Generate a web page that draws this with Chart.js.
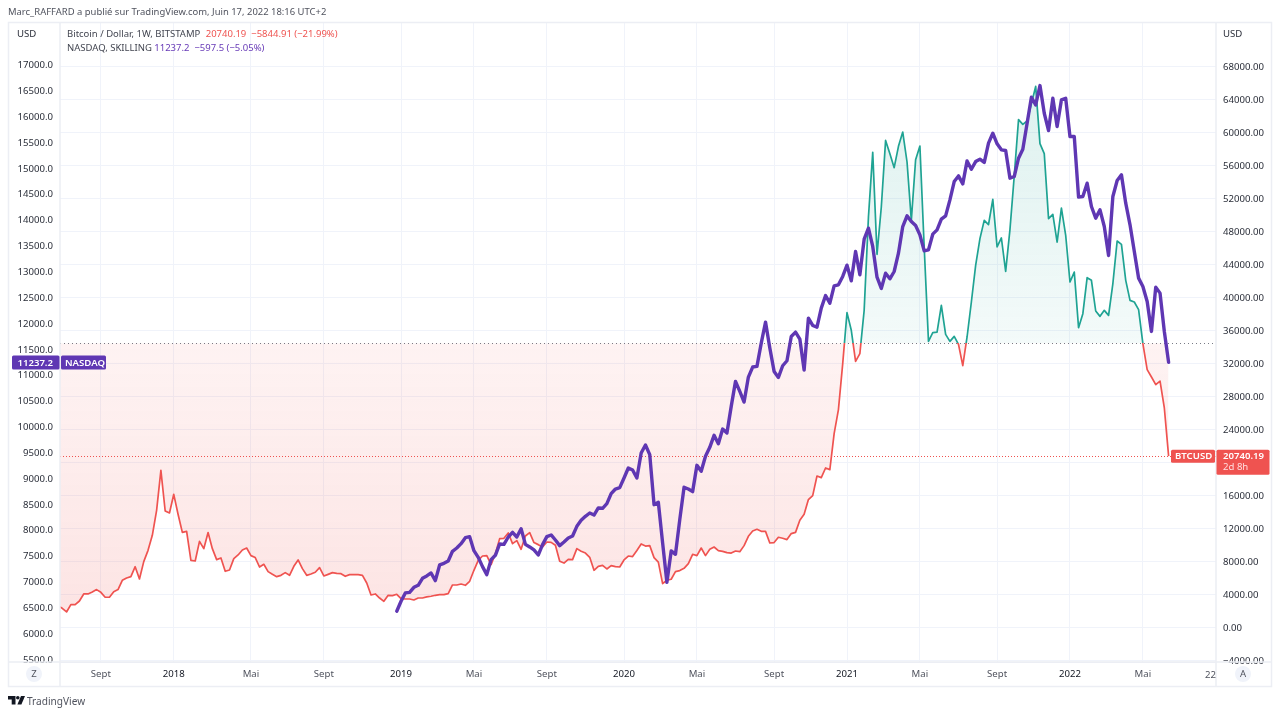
<!DOCTYPE html>
<html lang="fr"><head><meta charset="utf-8"><title>Bitcoin / NASDAQ</title>
<script src="https://cdn.jsdelivr.net/npm/chart.js@4/dist/chart.umd.min.js"></script>
<style>
html,body{margin:0;padding:0;background:#fff;width:1280px;height:715px;overflow:hidden}
body{font-family:"Noto Sans",sans-serif;position:relative;color:#434651}
canvas{position:absolute;left:0;top:0}
.t{position:absolute;white-space:pre;font-size:9.5px;line-height:12px}
.logo{position:absolute;left:8px;top:696px}
</style></head><body>
<canvas id="c" width="1280" height="715"></canvas>
<div class="t" style="left:8px;top:6px;font-size:9.45px;color:#50535e">Marc_RAFFARD a publié sur TradingView.com, Juin 17, 2022 18:16 UTC+2</div>
<div class="t" style="left:67px;top:28px">Bitcoin / Dollar, 1W, BITSTAMP <span style="color:#ef5350;margin-left:3px">20740.19  −5844.91 (−21.99%)</span></div>
<div class="t" style="left:67px;top:42px">NASDAQ, SKILLING <span style="color:#673ab7">11237.2  −597.5 (−5.05%)</span></div>
<svg class="logo" width="17" height="9" viewBox="0 0 17 9"><path fill="#131722" d="M0 0h7.5v8.5H3.7V3.6H0z"/><circle fill="#131722" cx="9.8" cy="1.8" r="1.8"/><path fill="#131722" d="M13 0h4l-3.6 8.5H9.4z"/></svg>
<div class="t" style="left:27px;top:694px;font-size:10.1px;line-height:14px;color:#50535e">TradingView</div>
<script>
const btcWeekly = [
2600,2300,1860,2750,2750,3190,4040,4040,4280,4570,
4240,3640,3640,4320,4570,5700,5980,6140,7350,5860,
7960,9330,11150,14180,19030,14100,13860,16120,13700,11510,
11630,8120,8040,10420,9530,11480,9530,8200,8400,6790,
6950,8320,8770,9370,9610,8690,8450,7310,7640,6750,
6420,6140,6300,6630,6300,7390,8160,7110,6300,6460,
6670,7230,6220,6420,6630,6540,6500,6180,6380,6380,
6380,6300,5370,3920,4040,3550,3150,3880,3840,4000,
3480,3430,3430,3310,3550,3550,3680,3760,3880,3960,
3960,4080,5130,5130,5250,5090,5580,6910,8120,8640,
8690,7600,8930,10750,10790,11430,10140,10510,9450,11070,
11480,10270,10020,9730,10340,10300,9940,8000,7790,8240,
8200,9540,9210,9000,8480,6910,7390,7510,7070,7480,
7350,7310,8160,8640,8570,9300,10100,9850,9900,8450,
7910,5300,5700,5820,6750,6870,7150,7720,8850,8690,
9610,8690,9450,9730,9300,9210,9050,9000,9250,9170,
9900,11030,11670,11880,11630,11630,10220,10270,10910,10790,
10630,11360,11510,12970,13700,15480,15960,18340,18140,19310,
19110,23470,26390,31960,38140,36000,32240,33170,38420,49730,
57570,45210,50950,59020,57410,55710,58300,60030,56400,49330,
56680,58340,46090,34660,35720,35790,39030,35510,34660,35270,
34300,31720,35190,39430,43870,47110,49330,48810,51870,46100,
47190,43150,48200,54700,61530,60960,61370,63470,65570,58620,
57410,49530,50060,46700,50820,47510,41850,43060,36320,38020,
42380,42060,38340,37690,38420,37810,41660,46820,46420,42060,
39630,39430,38500,34380,31230,30340,29410,29850,26585.1,20740.19];
const nasdaqFirstWeek = 79;
const nasdaqWeekly = [
6423,6617,6778,6790,6887,6926,7061,7106,7164,7016,
7319,7351,7396,7583,7647,7731,7847,7867,7596,7467,
7287,7132,7422,7506,7725,7718,7860,7950,7860,8021,
7718,7667,7609,7512,7712,7867,7899,7802,7693,7763,
7841,7879,8066,8182,8260,8324,8285,8421,8415,8505,
8698,8788,8814,9001,9194,9156,9001,9484,9639,9452,
8485,8531,7745,6984,7590,7525,8196,8821,8788,8737,
9246,9130,9420,9594,9826,9665,9948,9871,10386,10870,
10676,10470,10953,11147,11159,11610,12016,11514,11063,10947,
11172,11269,11739,11823,11688,11088,12093,11951,11919,12287,
12531,12383,12718,12738,12899,13118,12815,13382,12931,13620,
13833,13479,12886,12667,12963,12854,12995,13350,13865,14071,
13962,13884,13704,13395,13414,13717,13801,14007,14071,14380,
14735,14844,14690,15134,14973,15121,15167,15103,15477,15670,
15464,15348,15335,14800,14832,15187,15361,15863,16366,16217,
16591,16056,15721,16346,15799,16314,16346,15605,15605,14433,
14446,14703,14252,14027,14188,13866,13305,14446,14755,14864,
14317,13898,13383,12867,12706,12416,11836,12693,12577,11834.7,
11237.2];
const baselineValue = 34424;
const tickWeeks  = [10,27,45,62,80,97,114,132,149,167,184,201,219,236,253,270];
const tickLabels = ['Sept','2018','Mai','Sept','2019','Mai','Sept','2020','Mai','Sept','2021','Mai','Sept','2022','Mai','22'];
const nasdaqTicks = [5500,6000,6500,7000,7500,8000,8500,9000,9500,10000,10500,11000,11500,12000,12500,13000,13500,14000,14500,15000,15500,16000,16500,17000];
const btcTicks = [-4000,0,4000,8000,12000,16000,20000,24000,28000,32000,36000,40000,44000,48000,52000,56000,60000,64000,68000,72000];

const RED='#ef5350', TEAL='#1fa393', PURPLE='#5f37b3', GRID='#f0f3fa', FRAME='#eceef4', INK='#2a2e39';
const FONT='"Noto Sans",sans-serif';

function roundBox(ctx,x,y,w,h,col){ctx.fillStyle=col;ctx.beginPath();ctx.roundRect(x,y,w,h,1.5);ctx.fill();}

const overlay = {
  id:'overlay',
  beforeDatasetsDraw(chart){
    const {ctx,chartArea:a,scales:{yBtc}}=chart;
    ctx.save();
    ctx.lineWidth=1;
    ctx.setLineDash([1,3]);
    ctx.strokeStyle='#787b86';
    const b=Math.round(yBtc.getPixelForValue(baselineValue))+.5;
    ctx.beginPath();ctx.moveTo(a.left,b);ctx.lineTo(a.right,b);ctx.stroke();
    ctx.strokeStyle=RED;ctx.setLineDash([1,2]);
    const l=Math.round(yBtc.getPixelForValue(btcWeekly[btcWeekly.length-1]))+.5;
    ctx.beginPath();ctx.moveTo(a.left,l);ctx.lineTo(a.right,l);ctx.stroke();
    ctx.restore();
  },
  afterDraw(chart){
    const {ctx,chartArea:a,scales:{x,yBtc,yNas}}=chart;
    ctx.save();
    ctx.strokeStyle=FRAME;ctx.lineWidth=1.5;
    ctx.strokeRect(8.5,a.top+.5,1263,a.bottom+24-a.top);
    ctx.beginPath();ctx.moveTo(a.left,a.top);ctx.lineTo(a.left,a.bottom+24);
    ctx.moveTo(a.right,a.top);ctx.lineTo(a.right,a.bottom+24);
    ctx.moveTo(8,a.bottom);ctx.lineTo(1272,a.bottom);ctx.stroke();

    ctx.textBaseline='middle';ctx.font='9.6px '+FONT;
    // axis currency captions
    ctx.fillStyle=INK;ctx.textAlign='left';
    ctx.fillText('USD',17,a.top+12);ctx.fillText('USD',a.right+7,a.top+12);
    // clipped last time label
    ctx.fillStyle='#50535e';ctx.textAlign='right';
    ctx.fillText(tickLabels[tickLabels.length-1],a.right,a.bottom+13);

    // NASDAQ last-value tags
    ctx.font='600 9.6px '+FONT;
    const lastN=nasdaqWeekly[nasdaqWeekly.length-1];
    const yn=yNas.getPixelForValue(lastN);
    roundBox(ctx,12,yn-7,47.5,14,PURPLE);
    roundBox(ctx,a.left+1,yn-7,45,14,PURPLE);
    ctx.fillStyle='#fff';ctx.textAlign='right';ctx.fillText(lastN.toFixed(1),a.left-7,yn+.5);
    ctx.textAlign='left';ctx.fillText('NASDAQ',a.left+5,yn+.5);

    // BTC last-value tags
    const lastB=btcWeekly[btcWeekly.length-1];
    const yb=yBtc.getPixelForValue(lastB);
    roundBox(ctx,a.right-45,yb-6.5,44,13,RED);
    roundBox(ctx,a.right+.5,yb-6.5,53,25,RED);
    ctx.fillStyle='#fff';ctx.textAlign='left';
    ctx.fillText('BTCUSD',a.right-41,yb);
    ctx.fillText(lastB.toFixed(2),a.right+7,yb);
    ctx.font='9.6px '+FONT;
    ctx.fillStyle='#ffdcdc';ctx.fillText('2d 8h',a.right+7,yb+11.5);

    // scale-mode buttons
    const cy=a.bottom+12;
    [[34,'Z'],[1243,'A']].forEach(([cx,s])=>{
      ctx.fillStyle='#f0f3fa';ctx.beginPath();ctx.arc(cx,cy,8,0,Math.PI*2);ctx.fill();
      ctx.fillStyle='#50535e';ctx.textAlign='center';ctx.fillText(s,cx,cy);
    });
    ctx.restore();
  }
};

const chart = new Chart(document.getElementById('c'),{
  type:'line',
  data:{datasets:[
    {label:'NASDAQ',yAxisID:'yNas',data:nasdaqWeekly.map((v,i)=>({x:nasdaqFirstWeek+i,y:v})),
     borderColor:PURPLE,borderWidth:3.4,pointRadius:0,tension:0,fill:false,borderJoinStyle:'round',borderCapStyle:'round'},
    {label:'BTCUSD',yAxisID:'yBtc',data:btcWeekly.map((v,i)=>({x:i,y:v})),
     borderColor:RED,borderWidth:1.7,pointRadius:0,tension:0,fill:false,borderJoinStyle:'round'}
  ]},
  options:{
    responsive:false,animation:false,devicePixelRatio:1,
    layout:{padding:{left:8,right:8,top:22,bottom:29}},
    plugins:{legend:{display:false},tooltip:{enabled:false},title:{display:false}},
    scales:{
      x:{type:'linear',min:0.47,max:270.05,
        afterBuildTicks:s=>{s.ticks=tickWeeks.map(v=>({value:v}));},
        afterFit:s=>{s.height=24;},
        grid:{color:GRID,lineWidth:1,drawTicks:false},
        border:{color:FRAME},
        ticks:{autoSkip:false,maxRotation:0,minRotation:0,padding:7,
          callback:v=>{const k=tickWeeks.indexOf(v);return k===tickLabels.length-1?null:tickLabels[k];},
          color:c=>/^\d{4}$/.test(c.tick.label)?'#131722':'#50535e',
          font:{family:FONT,size:9.6}}},
      yNas:{position:'left',type:'linear',min:5442,max:17821,
        afterBuildTicks:s=>{s.ticks=nasdaqTicks.map(v=>({value:v}));},
        afterFit:s=>{s.width=52;},
        grid:{display:false,drawTicks:false},border:{display:false},
        ticks:{padding:7,labelOffset:1,autoSkip:false,maxRotation:0,minRotation:0,color:INK,font:{family:FONT,size:9.6},
          callback:v=>v.toFixed(1)}},
      yBtc:{position:'right',type:'linear',min:-4206,max:73370,
        afterBuildTicks:s=>{s.ticks=btcTicks.map(v=>({value:v}));},
        afterFit:s=>{s.width=56;},
        grid:{color:GRID,lineWidth:1,drawTicks:false},border:{display:false},
        ticks:{padding:7,labelOffset:1,autoSkip:false,maxRotation:0,minRotation:0,color:INK,font:{family:FONT,size:9.6},
          callback:v=>v>68000?null:(v<0?'−':'')+Math.abs(v).toFixed(2)}}
    }
  },
  plugins:[overlay]
});

// Baseline styling: colours change where the BTC line crosses its baseline.
(function(){
  const y=chart.scales.yBtc, ctx=chart.ctx, ds=chart.data.datasets[1];
  const by=y.getPixelForValue(baselineValue);
  const top=y.getPixelForValue(66000), bot=y.getPixelForValue(0);
  const span=y.bottom-y.top, stop=(by-y.top)/span;
  const line=ctx.createLinearGradient(0,y.top,0,y.bottom);
  line.addColorStop(0,TEAL);line.addColorStop(stop,TEAL);
  line.addColorStop(stop,RED);line.addColorStop(1,RED);
  ds.borderColor=line;
  const up=ctx.createLinearGradient(0,top,0,by);
  up.addColorStop(0,'rgba(31,163,147,0.15)');up.addColorStop(1,'rgba(31,163,147,0.05)');
  const dn=ctx.createLinearGradient(0,by,0,bot);
  dn.addColorStop(0,'rgba(239,83,80,0.07)');dn.addColorStop(1,'rgba(239,83,80,0.16)');
  ds.fill={target:{value:baselineValue},above:up,below:dn};
  chart.update('none');
})();
</script>
</body></html>
